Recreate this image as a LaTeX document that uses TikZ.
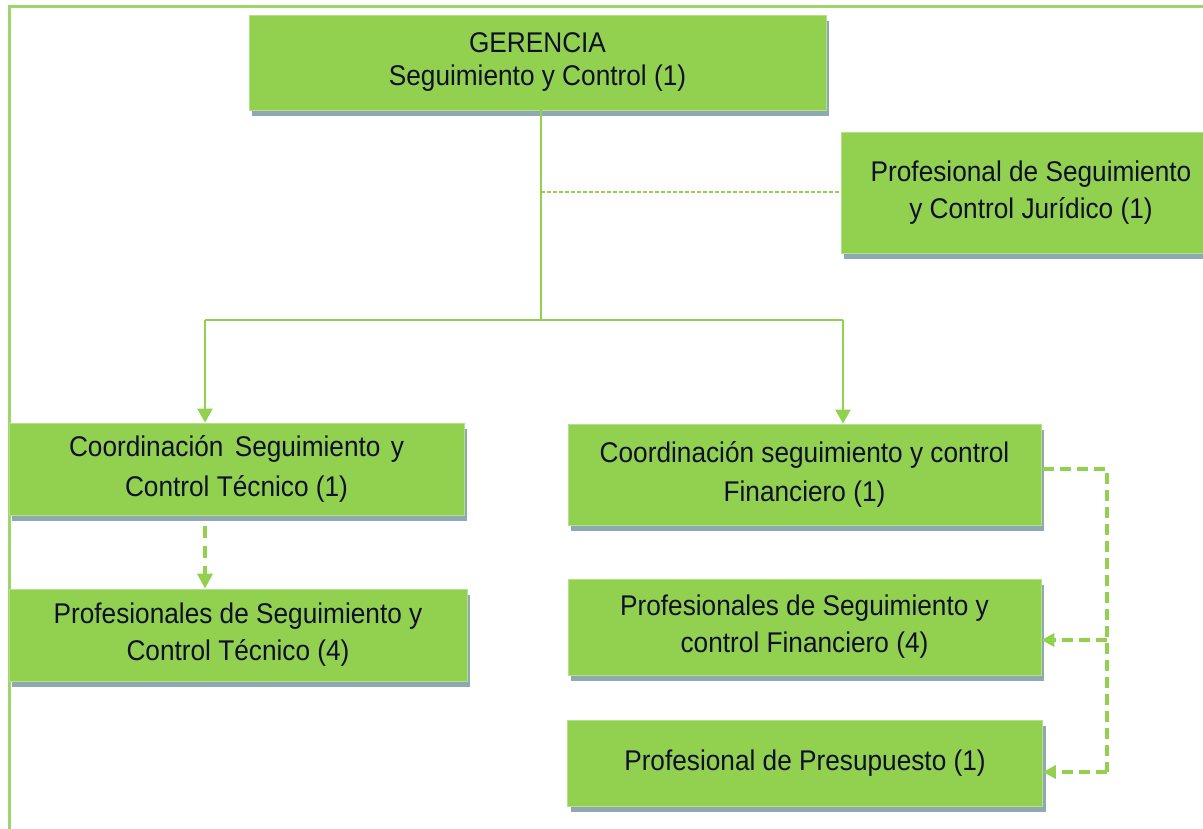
\documentclass[tikz,border=0pt]{standalone}
\usepackage{fontspec}
\setmainfont{Liberation Sans}[FakeStretch=0.92]
\usetikzlibrary{arrows.meta,shadows}
\definecolor{boxg}{HTML}{92D050}
\definecolor{edgeg}{HTML}{B5E08A}
\definecolor{lineg}{HTML}{92D050}
\definecolor{frameg}{HTML}{9ED66A}
\definecolor{shadowc}{HTML}{8FA9B3}
\definecolor{txt}{HTML}{10102A}
\tikzset{
  orgbox/.style={rectangle, fill=boxg, draw=edgeg, line width=0.8pt, inner sep=0pt,
    align=center, text=txt, font=\fontsize{28.5}{38}\selectfont,
    general shadow={fill=shadowc, shadow xshift=3pt, shadow yshift=-6pt}},
  solidline/.style={draw=lineg, line width=2.6pt},
  solidarr/.style={draw=lineg, line width=2.6pt, -{Triangle[width=15pt,length=14pt]}},
  finedash/.style={draw=lineg, line width=2pt, dash pattern=on 4pt off 2pt},
  thickdash/.style={draw=lineg, line width=4.5pt, dash pattern=on 12pt off 8pt},
  thickdasharr/.style={thickdash, -{Triangle[width=15pt,length=15pt]}},
  brdash/.style={draw=lineg, line width=3.2pt, dash pattern=on 11pt off 6pt},
  brdasharr/.style={brdash, -{Triangle[width=13pt,length=13pt]}},
  framel/.style={draw=frameg, line width=3pt}
}
\begin{document}
\begin{tikzpicture}[x=1pt,y=1pt]
\useasboundingbox (0,0) rectangle (1203,828);
\begin{scope}
\clip (0,0) rectangle (1203,828);
% frame
\coordinate (ftr) at (1210,821);
\coordinate (ftl) at (9,821);
\coordinate (fbl) at (9,-5);
\draw[framel] (ftr) -- (ftl) -- (fbl);

% boxes
\node[orgbox, minimum width=577pt, minimum height=95pt, font=\fontsize{28.5}{33}\selectfont] (ger) at (537.5,765.5) {GERENCIA\\Seguimiento y Control (1)};
\node[orgbox, minimum width=380pt, minimum height=121pt, font=\fontsize{28.5}{37}\selectfont] (jur) at (1031,635.5) {Profesional de Seguimiento\\y Control Jurídico (1)};
\node[orgbox, minimum width=455pt, minimum height=92pt, font=\fontsize{28.5}{40}\selectfont] (ct) at (236.5,359) {Coordinación\hspace{4pt} Seguimiento\hspace{3pt} y\\Control Técnico (1)};
\node[orgbox, minimum width=458pt, minimum height=92pt, font=\fontsize{28.5}{37}\selectfont] (pt) at (238,193) {Profesionales de Seguimiento y\\Control Técnico (4)};
\node[orgbox, minimum width=473pt, minimum height=101pt, font=\fontsize{28.5}{39}\selectfont] (cf) at (804.5,353.5) {Coordinación seguimiento y control\\Financiero (1)};
\node[orgbox, minimum width=473pt, minimum height=96pt, font=\fontsize{28.5}{37}\selectfont] (pf) at (804.5,201) {Profesionales de Seguimiento y\\control Financiero (4)};
\node[orgbox, minimum width=475pt, minimum height=86pt] (pp) at (805,65) {Profesional de Presupuesto (1)};

% connectors
\coordinate (hub) at (541,508);
\coordinate (hl) at (205,508);
\coordinate (hr) at (843,508);
\coordinate (gtop) at (541,718);
\draw[solidline] (gtop) -- (hub);
\draw[finedash] (gtop |- jur.west) -- (jur.west);
\draw[solidline] (hl) -- (hr);
\draw[solidarr] (hl) -- (hl |- ct.north);
\draw[solidarr] (hr) -- (hr |- cf.north);
\coordinate (ctb) at (205,302);
\draw[thickdasharr] (ctb) -- (ctb |- pt.north);
\coordinate (bs) at (1043,359);
\coordinate (bc) at (1107,359);
\coordinate (a1) at (1107,188);
\coordinate (a2) at (1107,56);
\draw[brdash] (bs) -- (bc) -- (a2);
\draw[brdasharr] (a1) -- (a1 -| pf.east);
\draw[brdasharr] (a2) -- (a2 -| pp.east);
\end{scope}
\end{tikzpicture}
\end{document}
